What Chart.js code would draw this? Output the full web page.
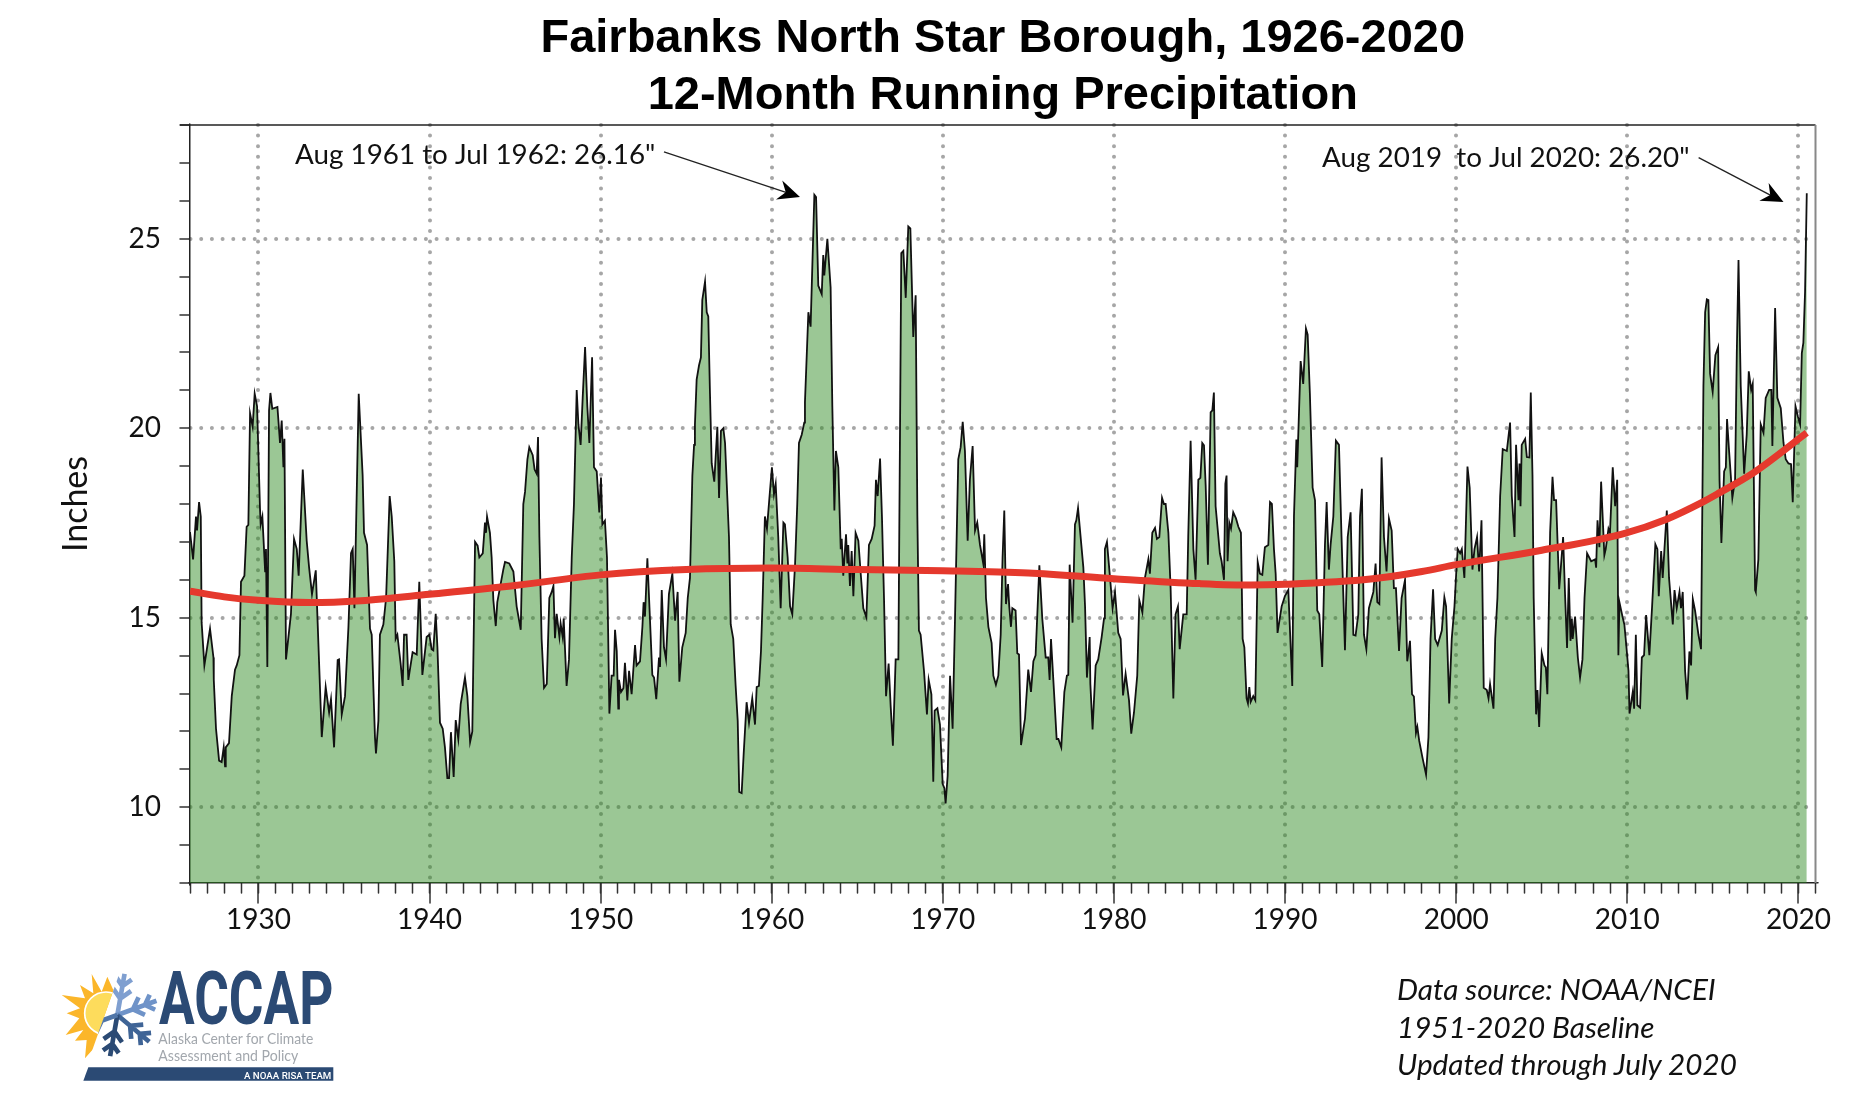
<!DOCTYPE html>
<html>
<head>
<meta charset="utf-8">
<title>Fairbanks North Star Borough, 1926-2020</title>
<script src="https://cdn.jsdelivr.net/npm/chart.js@4"></script>
<style>
  html, body { margin: 0; padding: 0; background: #fff; }
  #wrap { position: relative; width: 1859px; height: 1115px; overflow: hidden; }
  #chart { position: absolute; left: 0; top: 0; }
  #logo { position: absolute; left: 30px; top: 950px; }
  .note { position: absolute; left: 1397px; font: italic 29.7px Lato, sans-serif; color: #111; white-space: nowrap; }
</style>
</head>
<body>
<div id="wrap">
  <canvas id="chart" width="1859" height="1115"></canvas>

  <svg id="logo" width="340" height="160" viewBox="0 0 1020 480">
    <defs>
      <clipPath id="sunSide"><polygon points="0,0 293,0 173,340 0,340"/></clipPath>
      <clipPath id="flakeSide"><polygon points="293,0 500,0 500,340 173,340"/></clipPath>
      <g id="arm" fill="none" stroke-width="14">
        <path d="M0,0 V-125 M0,-50 L-28,-78 M0,-50 L28,-78 M0,-88 L-24,-112 M0,-88 L24,-112"/>
      </g>
    </defs>
    <g clip-path="url(#sunSide)">
      <polygon fill="#fbb62a" points="275,68 250,120 232,80 215,125 185,72 190,130 150,105 165,145 95,135 150,175 110,190 148,205 107,255 160,240 135,272 170,270 165,325 205,280 285,65"/>
      <circle cx="228" cy="190" r="64" fill="#fddc5c" stroke="#fff" stroke-width="5"/>
    </g>
    <g clip-path="url(#flakeSide)">
      <use href="#arm" transform="translate(262,195) rotate(10)" stroke="#7f9fd0"/>
      <use href="#arm" transform="translate(262,195) rotate(70)" stroke="#6f93c8"/>
      <use href="#arm" transform="translate(262,195) rotate(130)" stroke="#3f6496"/>
      <use href="#arm" transform="translate(262,195) rotate(190)" stroke="#2b4a74"/>
      <use href="#arm" transform="translate(262,195) rotate(250)" stroke="#4f75a8"/>
    </g>
    <text x="387" y="222" font-family="Roboto" font-weight="700" font-size="222" fill="#2b4a74" textLength="523" lengthAdjust="spacingAndGlyphs">ACCAP</text>
    <text x="385" y="282" font-family="Lato" font-size="44" fill="#a2a7ad" textLength="465" lengthAdjust="spacingAndGlyphs">Alaska Center for Climate</text>
    <text x="385" y="332" font-family="Lato" font-size="44" fill="#a2a7ad" textLength="420" lengthAdjust="spacingAndGlyphs">Assessment and Policy</text>
    <polygon points="175,352 910,352 910,392 160,392" fill="#2b4a74"/>
    <text x="642" y="386" font-family="Roboto" font-size="28" font-weight="500" fill="#fff" textLength="262" lengthAdjust="spacingAndGlyphs">A NOAA RISA TEAM</text>
  </svg>

  <div class="note" style="top:971px">Data source: NOAA/NCEI</div>
  <div class="note" style="top:1009px">1951-2020 Baseline</div>
  <div class="note" style="top:1046px">Updated through July 2020</div>
</div>

<script>
// 12 month running total (decimal year, inches)
const years = [
  1926.00,1926.18,1926.35,1926.41,1926.53,1926.63,1926.68,1926.84,1927.17,1927.37,
  1927.39,1927.52,1927.70,1927.85,1927.97,1928.05,1928.09,1928.28,1928.44,1928.63,
  1928.73,1928.89,1928.98,1929.18,1929.31,1929.41,1929.51,1929.66,1929.78,1929.92,
  1930.09,1930.13,1930.23,1930.39,1930.44,1930.52,1930.62,1930.70,1930.81,1931.11,
  1931.26,1931.36,1931.46,1931.52,1931.61,1931.90,1932.08,1932.24,1932.35,1932.59,
  1932.82,1932.96,1933.13,1933.35,1933.46,1933.70,1933.93,1934.13,1934.24,1934.42,
  1934.63,1934.71,1934.87,1935.06,1935.26,1935.41,1935.51,1935.61,1935.86,1936.09,
  1936.17,1936.35,1936.52,1936.62,1936.81,1936.87,1937.01,1937.10,1937.30,1937.46,
  1937.67,1937.79,1937.94,
  1938.02,1938.12,1938.31,1938.43,1938.51,1938.66,1938.76,1939.01,1939.25,1939.40,
  1939.58,1939.83,1939.99,1940.12,1940.22,1940.36,1940.46,1940.61,1940.77,1940.90,
  1941.04,1941.14,1941.25,1941.41,1941.53,1941.68,1941.82,1942.07,1942.21,1942.37,
  1942.50,1942.66,1942.81,1942.91,1943.11,1943.24,1943.30,1943.36,1943.53,1943.63,
  1943.73,1943.87,1943.96,1944.31,1944.41,1944.66,1944.90,1945.09,1945.33,1945.48,
  1945.58,1945.72,1945.83,1946.03,1946.14,1946.26,1946.34,1946.42,1946.55,1946.69,
  1946.85,1947.00,1947.14,1947.24,1947.33,1947.43,1947.59,1947.66,1947.78,1947.84,
  1948.01,1948.15,1948.31,1948.44,1948.60,1948.70,1948.83,1948.95,1949.09,1949.22,
  1949.34,1949.50,1949.61,1949.77,1949.92,
  1950.02,1950.10,1950.25,1950.37,1950.51,1950.64,1950.76,1950.84,1950.94,1951.03,
  1951.07,1951.19,1951.33,1951.42,1951.56,1951.66,1951.81,1952.01,1952.10,1952.30,
  1952.44,1952.51,1952.59,1952.73,1952.88,1953.02,1953.12,1953.25,1953.41,1953.47,
  1953.57,1953.70,1953.82,1953.99,1954.19,1954.35,1954.50,1954.60,1954.77,1954.97,
  1955.09,1955.22,1955.36,1955.46,1955.51,1955.61,1955.75,1955.86,1955.94,1956.10,
  1956.20,1956.29,1956.39,1956.49,1956.64,1956.82,1956.92,1957.03,1957.17,1957.27,
  1957.40,1957.50,1957.60,1957.75,1957.89,1958.01,1958.10,1958.24,1958.36,1958.53,
  1958.67,1958.86,1959.02,1959.12,1959.25,1959.37,1959.47,1959.60,1959.72,1959.90,
  1960.01,1960.13,1960.23,1960.38,1960.52,1960.68,1960.77,1960.93,1961.07,1961.20,
  1961.36,1961.49,1961.59,1961.75,1961.90,
  1961.94,1962.14,1962.27,1962.49,1962.59,1962.72,1962.92,1963.01,1963.07,1963.25,
  1963.44,1963.54,1963.66,1963.75,1963.89,1964.03,1964.09,1964.18,1964.34,1964.42,
  1964.47,1964.57,1964.67,1964.77,1964.90,1965.06,1965.20,1965.35,1965.53,1965.68,
  1965.84,1966.01,1966.09,1966.19,1966.33,1966.44,1966.56,1966.68,1966.83,1966.95,
  1967.08,1967.24,1967.40,1967.57,1967.69,1967.83,1967.98,1968.10,1968.27,1968.41,
  1968.51,1968.60,1968.70,1968.90,1969.07,1969.17,1969.33,1969.44,1969.52,1969.68,
  1969.83,1969.99,1970.09,1970.16,1970.28,1970.42,1970.57,1970.71,1970.90,1971.04,
  1971.16,1971.29,1971.45,1971.58,1971.74,1971.88,1972.01,1972.17,1972.36,1972.42,
  1972.52,1972.66,1972.85,1972.95,1973.10,1973.24,1973.38,1973.49,1973.59,1973.69,
  1973.81,1973.88,
  1973.98,1974.06,1974.25,1974.35,1974.45,1974.57,1974.80,1974.99,1975.15,1975.29,
  1975.42,1975.64,1975.81,1976.01,1976.16,1976.24,1976.32,1976.51,1976.65,1976.75,
  1976.92,1977.10,1977.25,1977.33,1977.41,1977.58,1977.72,1977.80,1977.90,1978.21,
  1978.31,1978.42,1978.58,1978.62,1978.75,1978.93,1979.08,1979.28,1979.42,1979.47,
  1979.59,1979.77,1979.92,1980.06,1980.25,1980.39,1980.53,1980.68,1980.88,1981.01,
  1981.17,1981.36,1981.48,1981.66,1981.81,1982.01,1982.10,1982.24,1982.40,1982.51,
  1982.65,1982.81,1982.92,1983.02,1983.18,1983.31,1983.47,1983.60,1983.74,1983.84,
  1984.05,1984.25,1984.34,1984.48,1984.64,1984.77,1984.93,1985.05,1985.16,1985.26,
  1985.36,1985.49,1985.65,1985.75,1985.84,
  1985.94,1986.19,1986.29,1986.43,1986.51,1986.58,1986.64,1986.74,1986.84,1986.97,
  1987.13,1987.27,1987.42,1987.52,1987.62,1987.75,1987.83,1987.91,1987.99,1988.14,
  1988.26,1988.40,1988.53,1988.67,1988.82,1989.02,1989.12,1989.23,1989.35,1989.45,
  1989.56,1989.80,1989.99,1990.19,1990.42,1990.52,1990.66,1990.71,1990.91,1991.06,
  1991.22,1991.32,1991.45,1991.61,1991.75,1991.88,1992.00,1992.17,1992.33,1992.43,
  1992.56,1992.66,1992.82,1992.97,1993.15,1993.30,1993.50,1993.66,1993.83,1993.99,
  1994.12,1994.28,1994.38,1994.49,1994.61,1994.75,1994.90,1995.16,1995.29,1995.39,
  1995.51,1995.64,1995.78,1995.93,1996.07,1996.23,1996.36,1996.48,1996.66,1996.81,
  1997.01,1997.14,1997.30,1997.42,1997.53,1997.65,1997.73,1997.84,
  1998.03,1998.24,1998.38,1998.50,1998.65,1998.77,1998.92,1999.16,1999.31,1999.41,
  1999.59,1999.74,1999.90,2000.00,2000.09,2000.23,2000.33,2000.48,2000.66,2000.79,
  2000.95,2001.07,2001.22,2001.34,2001.48,2001.61,2001.79,2001.89,2001.98,2002.18,
  2002.28,2002.41,2002.57,2002.72,2002.96,2003.15,2003.25,2003.41,2003.50,2003.64,
  2003.70,2003.76,2003.83,2004.03,2004.13,2004.28,2004.36,2004.46,2004.53,2004.67,
  2004.75,2004.85,2005.00,2005.16,2005.24,2005.33,2005.49,2005.63,2005.72,2005.84,
  2006.02,2006.25,2006.37,2006.48,2006.58,2006.68,2006.76,2006.81,2006.95,2007.11,
  2007.24,2007.38,2007.50,2007.65,2007.89,2008.12,2008.18,2008.26,2008.37,2008.47,
  2008.66,2008.74,2008.90,2008.99,2009.15,2009.29,2009.41,2009.48,2009.54,2009.72,
  2009.83,
  2009.93,2010.07,2010.13,2010.32,2010.40,2010.50,2010.59,2010.75,2010.85,2010.98,
  2011.10,2011.29,2011.45,2011.64,2011.76,2011.84,2011.98,2012.07,2012.17,2012.31,
  2012.44,2012.66,2012.76,2012.89,2013.05,2013.14,2013.24,2013.38,2013.50,2013.63,
  2013.73,2013.83,2013.96,2014.16,2014.31,2014.45,2014.55,2014.65,2014.74,2014.84,
  2014.99,2015.15,2015.31,2015.39,2015.50,2015.66,2015.76,2015.83,2015.95,2016.14,
  2016.30,2016.40,2016.50,2016.63,2016.83,2016.98,2017.10,2017.24,2017.33,2017.47,
  2017.51,2017.66,2017.80,2017.96,2018.09,2018.29,2018.42,2018.48,2018.64,2018.77,
  2018.97,2019.13,2019.26,2019.42,2019.57,2019.67,2019.83,2019.97,2020.10,2020.20,
  2020.29,2020.39,2020.49
];
const inches = [
  17.26,16.54,17.67,17.30,18.05,17.67,14.87,13.74,14.71,13.95,
  13.36,12.07,11.23,11.19,11.58,11.08,11.58,11.69,12.93,13.63,
  13.74,14.01,15.95,16.11,17.40,17.45,20.39,20.04,20.91,20.58,
  17.89,17.46,17.67,16.22,16.81,13.70,20.47,20.93,20.51,20.56,
  19.61,20.20,18.97,19.72,13.90,15.10,17.08,16.81,16.11,18.91,
  17.03,16.33,15.62,16.25,14.87,11.85,13.17,12.50,12.85,11.58,
  13.88,13.90,12.45,12.93,14.76,16.70,16.81,15.25,20.91,18.75,
  17.24,16.92,14.71,14.55,11.85,11.42,12.28,14.55,14.82,15.52,
  18.21,17.67,16.49,
  14.44,14.55,13.79,13.20,14.55,14.55,13.36,14.09,14.03,15.95,
  13.49,14.49,14.55,14.17,14.14,15.10,14.22,12.23,12.07,11.58,
  10.77,10.77,11.98,10.80,12.30,11.80,12.72,13.42,12.93,11.72,
  12.00,17.00,16.90,16.59,16.70,17.51,17.24,17.67,17.24,16.59,
  15.46,14.78,15.41,16.27,16.47,16.43,16.22,15.30,14.68,18.00,
  18.32,19.18,19.50,19.29,18.91,18.80,19.77,17.13,14.44,13.15,
  13.25,15.52,15.68,15.84,14.46,15.10,14.49,14.85,14.49,14.98,
  13.20,13.90,16.59,18.00,21.01,20.10,19.56,20.80,22.14,20.58,
  19.61,21.87,18.97,18.86,17.78,
  18.70,17.46,17.56,16.59,12.47,13.47,13.47,14.68,14.12,12.60,
  13.36,13.04,13.14,13.81,12.82,13.60,12.98,14.28,13.74,13.85,
  14.76,15.41,15.03,16.57,14.98,13.49,13.42,12.85,13.95,13.70,
  15.73,14.22,13.90,15.62,16.16,14.92,15.68,13.31,14.22,14.60,
  15.52,16.05,18.75,19.56,20.10,21.28,21.66,21.87,23.38,23.87,
  23.06,22.95,20.91,19.07,18.59,20.04,18.16,19.93,20.00,19.61,
  18.21,17.13,14.82,14.44,13.20,12.28,10.40,10.37,11.42,12.77,
  12.23,12.87,12.18,13.17,13.20,14.12,15.52,17.67,17.35,18.37,
  18.97,18.26,18.53,17.13,15.25,17.51,17.46,16.59,15.30,15.09,
  16.38,18.00,19.61,19.83,20.15,
  20.69,23.06,22.68,26.16,26.10,23.76,23.54,24.57,24.03,25.00,
  23.71,20.58,17.83,19.40,18.97,16.81,17.08,16.11,17.20,16.43,
  16.92,15.84,16.76,15.57,17.24,17.03,16.16,15.25,15.01,16.92,
  17.08,17.43,18.64,18.21,19.20,17.67,15.52,12.93,13.79,12.66,
  11.62,13.90,13.90,24.62,24.68,23.44,25.32,25.27,22.41,23.51,
  17.67,14.66,14.55,13.58,12.45,13.36,12.98,10.67,12.55,12.61,
  12.18,10.61,10.50,10.10,10.83,13.47,12.07,14.98,19.18,19.50,
  20.17,19.40,17.03,18.64,19.53,17.30,17.51,16.92,16.43,17.20,
  15.52,14.76,14.33,13.47,13.23,13.47,14.55,16.59,17.83,15.36,
  15.89,15.30,
  14.76,15.25,15.19,14.06,14.03,11.64,12.34,13.63,13.04,13.85,
  14.01,16.38,14.98,13.95,13.95,13.36,14.44,12.93,11.80,11.80,
  11.58,13.04,13.47,13.49,16.40,14.87,17.46,17.57,17.89,16.33,
  15.30,13.42,14.49,13.25,12.05,13.74,13.90,14.49,14.98,16.81,
  17.00,16.05,15.25,15.68,14.60,14.44,12.95,13.52,12.82,11.94,
  12.50,13.47,15.46,15.14,16.05,16.54,16.16,17.24,17.37,17.08,
  17.13,18.16,18.00,18.00,17.24,15.78,12.87,15.09,15.30,14.17,
  15.09,15.09,17.13,19.67,16.81,16.00,18.64,18.69,19.61,19.55,
  18.48,16.40,20.42,20.47,20.94,
  17.94,16.70,16.49,16.00,18.53,18.75,16.49,17.51,17.35,17.78,
  17.62,17.40,17.24,14.44,14.22,12.87,12.74,13.17,12.78,12.93,
  12.82,16.47,16.16,16.13,16.86,16.92,18.05,18.00,16.81,16.16,
  14.60,15.30,15.57,15.73,13.20,17.67,19.70,18.97,21.77,21.17,
  22.63,22.47,20.91,18.43,18.10,15.19,15.09,13.70,16.92,18.05,
  16.27,16.92,17.67,19.67,19.56,17.13,14.14,17.13,17.78,14.55,
  14.53,15.09,17.67,18.40,14.55,14.17,15.25,15.68,16.43,15.41,
  15.36,19.23,17.13,16.22,17.62,17.30,15.78,15.78,14.12,15.52,
  16.00,13.85,14.39,12.98,12.92,11.96,12.12,11.75,
  11.31,10.86,11.85,14.44,15.75,14.44,14.28,14.66,15.54,15.30,
  12.74,14.44,15.30,16.16,16.81,16.70,16.81,16.05,18.99,18.43,
  16.27,16.81,17.13,16.22,17.57,13.15,13.09,12.87,13.25,12.60,
  14.44,15.52,18.21,19.45,19.40,20.15,18.21,17.13,19.56,18.10,
  19.07,17.94,19.56,19.72,19.24,19.23,20.94,18.75,15.52,12.45,
  13.09,12.12,14.06,13.74,13.69,12.98,17.24,18.72,18.10,18.10,
  15.75,17.13,15.52,14.20,16.05,14.39,14.97,14.44,15.03,13.95,
  13.42,13.90,15.52,16.70,16.49,16.54,16.32,17.57,16.86,18.59,
  16.65,16.81,17.35,17.24,18.97,17.94,18.64,14.01,15.41,15.03,
  14.82,
  14.33,13.60,12.47,13.04,12.60,14.55,12.69,12.63,13.95,14.01,
  15.07,14.01,15.30,16.94,16.81,15.57,16.76,16.05,16.80,17.83,
  16.05,14.82,15.73,15.25,15.68,15.25,15.68,13.58,12.84,14.11,
  13.74,15.49,15.19,14.55,14.17,21.12,23.06,23.40,23.38,21.44,
  20.96,21.93,22.14,18.64,16.97,18.86,18.97,20.24,19.40,18.16,
  18.64,21.98,24.44,21.12,18.80,19.83,21.50,21.01,21.17,15.73,
  15.68,16.54,20.10,19.88,20.80,21.01,21.01,19.53,23.17,20.80,
  20.53,19.61,19.18,19.07,19.05,18.05,20.58,20.31,20.10,21.98,
  22.25,23.60,26.20
];

// red smoothed curve
const trendYears = [1926,1928,1930,1933,1936,1940,1945,1950,1955,1960,1965,1970,1975,1980,1985,1988,1990,1995,1998,2000,2005,2009.8,2012.3,2014.4,2015.4,2017.3,2020.49];
const trendInches = [15.7,15.55,15.46,15.4,15.45,15.62,15.85,16.13,16.27,16.31,16.27,16.24,16.18,16.03,15.9,15.86,15.88,16.02,16.22,16.4,16.78,17.22,17.6,18.05,18.3,18.8,19.88];

const titleLines = ['Fairbanks North Star Borough, 1926-2020', '12-Month Running Precipitation'];

// callouts, in axis units
const noteText = ['Aug 1961 to Jul 1962: 26.16"', 'Aug 2019  to Jul 2020: 26.20"'];
const noteYears = [1932.14, 1992.16];
const noteInches = [27.2, 27.14];
const arrowFromYears = [1953.7, 2014.17];
const arrowFromInches = [27.29, 27.14];
const arrowToYears = [1961.65, 2019.13];
const arrowToInches = [26.1, 25.97];

const toPoints = (xs, ys) => xs.map((x, i) => ({ x, y: ys[i] }));

// round dotted grid and the little extras the library has no option for
const extras = {
  id: 'extras',
  beforeDraw(chart) {
    chart.ctx.lineCap = 'round';
  },
  afterDraw(chart) {
    const { ctx, chartArea: a, scales: { x, y } } = chart;
    ctx.save();
    ctx.lineCap = 'butt';
    ctx.strokeStyle = '#222';
    ctx.lineWidth = 1.5;
    ctx.beginPath();
    ctx.moveTo(a.left - 10, a.top);
    ctx.lineTo(a.right, a.top);
    ctx.stroke();
    ctx.strokeStyle = '#888';
    ctx.lineWidth = 2;
    ctx.beginPath();
    ctx.moveTo(a.right, a.top);
    ctx.lineTo(a.right, a.bottom);
    ctx.stroke();

    ctx.fillStyle = '#111';
    ctx.font = '27.8px Lato';
    ctx.textBaseline = 'middle';
    noteText.forEach((t, i) => {
      ctx.fillText(t, x.getPixelForValue(noteYears[i]), y.getPixelForValue(noteInches[i]));
      const x0 = x.getPixelForValue(arrowFromYears[i]), y0 = y.getPixelForValue(arrowFromInches[i]);
      const x1 = x.getPixelForValue(arrowToYears[i]), y1 = y.getPixelForValue(arrowToInches[i]);
      const ang = Math.atan2(y1 - y0, x1 - x0);
      ctx.strokeStyle = '#222';
      ctx.lineWidth = 1.3;
      ctx.beginPath();
      ctx.moveTo(x0, y0);
      ctx.lineTo(x1 - 10 * Math.cos(ang), y1 - 10 * Math.sin(ang));
      ctx.stroke();
      ctx.save();
      ctx.translate(x1, y1);
      ctx.rotate(ang);
      ctx.fillStyle = '#000';
      ctx.beginPath();
      ctx.moveTo(0, 0);
      ctx.lineTo(-22, -10);
      ctx.lineTo(-15, 0);
      ctx.lineTo(-22, 10);
      ctx.closePath();
      ctx.fill();
      ctx.restore();
    });
    ctx.restore();
  }
};

new Chart(document.getElementById('chart').getContext('2d'), {
  type: 'line',
  plugins: [extras],
  data: {
    datasets: [
      {
        label: 'Smoothed',
        data: toPoints(trendYears, trendInches),
        borderColor: '#e5392d',
        borderWidth: 7,
        pointRadius: 0,
        cubicInterpolationMode: 'monotone',
        fill: false,
        order: 0
      },
      {
        label: '12-Month Precipitation',
        data: toPoints(years, inches),
        borderColor: '#111',
        borderWidth: 1.8,
        backgroundColor: 'rgba(42,136,30,0.47)',
        pointRadius: 0,
        tension: 0,
        fill: 'start',
        order: 1
      }
    ]
  },
  options: {
    responsive: false,
    animation: false,
    parsing: false,
    layout: { padding: { top: 11, right: 43.5, left: 0, bottom: 0 } },
    plugins: {
      legend: { display: false },
      tooltip: { enabled: false },
      title: {
        display: true,
        text: titleLines,
        fullSize: false,
        color: '#000',
        font: { family: '"Liberation Sans"', size: 47, weight: 'bold', lineHeight: 1.213 },
        padding: { top: 0, bottom: 0 }
      }
    },
    scales: {
      x: {
        type: 'linear',
        min: 1926,
        max: 2021,
        afterFit: s => { s.height = 232; },
        ticks: {
          stepSize: 10,
          includeBounds: false,
          autoSkip: false,
          maxRotation: 0,
          padding: 0,
          color: '#111',
          font: { family: 'Lato', size: 28 },
          callback: v => String(v)
        },
        grid: {
          color: '#a6a6a6',
          lineWidth: 4,
          tickLength: 20,
          tickColor: '#333',
          tickWidth: 1.5
        },
        border: { color: '#222', width: 1.5, dash: [0, 10.6] }
      },
      // yearly minor ticks along the bottom
      x2: {
        type: 'linear',
        position: { y: 8 },
        min: 1926,
        max: 2021,
        ticks: { stepSize: 1, autoSkip: false, maxRotation: 0, display: false },
        grid: { drawOnChartArea: false, tickLength: 10, tickColor: '#333', tickWidth: 1.5 },
        border: { display: false }
      },
      y: {
        min: 8,
        max: 28,
        afterFit: s => { s.width = 190; },
        title: {
          display: true,
          text: 'Inches',
          color: '#111',
          font: { family: 'Lato', size: 34, lineHeight: 1.2 },
          padding: { top: 56, bottom: 0 }
        },
        ticks: {
          stepSize: 1,
          autoSkip: false,
          padding: 19,
          color: '#111',
          font: { family: 'Lato', size: 28 },
          callback: v => (v % 5 === 0 ? String(v) : '')
        },
        grid: {
          color: c => (c.tick && c.tick.value % 5 === 0 ? '#a6a6a6' : 'rgba(0,0,0,0)'),
          lineWidth: 4,
          tickLength: 10,
          tickColor: '#333',
          tickWidth: 1.5
        },
        border: { color: '#222', width: 1.5, dash: [0, 10.7] }
      }
    }
  }
});
</script>
</body>
</html>
